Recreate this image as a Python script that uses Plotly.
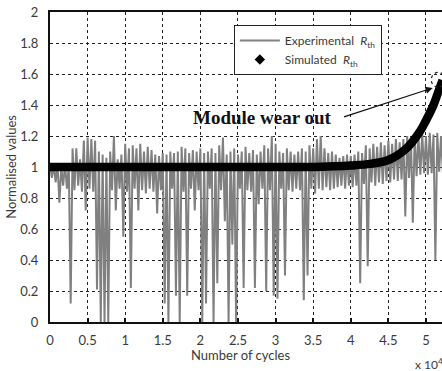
import plotly.graph_objects as go

# ---- data ----
x_ticks = [0, 0.5, 1, 1.5, 2, 2.5, 3, 3.5, 4, 4.5, 5]
x_tick_labels = ["0", "0.5", "1", "1.5", "2", "2.5", "3", "3.5", "4", "4.5", "5"]
y_ticks = [0, 0.2, 0.4, 0.6, 0.8, 1.0, 1.2, 1.4, 1.6, 1.8, 2.0]
y_tick_labels = ["0", "0.2", "0.4", "0.6", "0.8", "1", "1.2", "1.4", "1.6", "1.8", "2"]

# experimental normalised Rth, sampled every 0.025 (x 10^4 cycles)
exp_step = 0.025
exp_y = [
    1.02, 0.93, 1.01, 0.90, 1.02, 0.77, 1.00, 0.88, 1.02, 0.86,
    1.01, 0.12, 1.12, 0.85, 1.12, 0.88, 1.05, 0.84, 1.17, 0.72,
    1.19, 0.86, 1.18, 0.84, 1.17, 0.21, 1.10, 0.00, 1.08, 0.00,
    1.06, 0.00, 1.10, 0.85, 1.20, 0.72, 1.05, 0.86, 1.08, 0.55,
    1.15, 0.84, 1.12, 0.22, 1.14, 0.86, 1.12, 0.72, 1.15, 0.85,
    1.10, 0.83, 1.13, 0.86, 1.11, 0.84, 1.08, 0.70, 1.07, 0.85,
    1.09, 0.12, 1.08, 0.00, 1.10, 0.86, 1.09, 0.17, 1.10, 0.00,
    1.13, 0.84, 1.12, 0.17, 1.09, 0.86, 1.11, 0.72, 1.10, 0.85,
    1.12, 0.00, 1.09, 0.12, 1.10, 0.86, 1.12, 0.00, 1.09, 0.25,
    1.14, 0.85, 1.19, 0.65, 1.08, 0.00, 1.10, 0.50, 1.12, 0.00,
    1.08, 0.86, 1.10, 0.22, 1.13, 0.85, 1.09, 0.84, 1.11, 0.22,
    1.08, 0.76, 1.10, 0.86, 1.14, 0.20, 1.12, 0.85, 1.20, 0.17,
    1.15, 0.15, 1.10, 0.86, 1.09, 0.30, 1.12, 0.85, 1.10, 0.84,
    1.08, 0.86, 1.10, 0.85, 1.12, 0.14, 1.10, 0.30, 1.14, 0.86,
    1.12, 0.83, 1.18, 0.86, 1.20, 0.85, 1.12, 0.87, 1.09, 0.85,
    1.10, 0.86, 1.08, 0.87, 1.06, 0.88, 1.07, 0.86, 1.08, 0.88,
    1.07, 0.87, 1.08, 0.88, 1.10, 0.25, 1.09, 0.89, 1.14, 0.36,
    1.12, 0.90, 1.15, 0.88, 1.13, 0.90, 1.16, 0.89, 1.14, 0.91,
    1.17, 0.90, 1.15, 0.92, 1.18, 0.91, 1.16, 0.92, 1.18, 0.68,
    1.20, 0.93, 1.19, 0.64, 1.21, 0.94, 1.20, 0.95, 1.22, 0.96,
    1.20, 0.95, 1.22, 0.96, 1.21, 0.40, 1.22, 0.97, 1.20, 0.96,
]
exp_x = [i * exp_step for i in range(len(exp_y))]

# simulated normalised Rth
sim_x = [0, 0.5, 1.0, 1.5, 2.0, 2.5, 3.0, 3.5, 3.8, 4.0, 4.26, 4.5, 4.74, 4.92, 5.0, 5.1, 5.16, 5.22]
sim_y = [1.0, 1.0, 1.0, 1.0, 1.0, 1.0, 1.0, 1.0, 1.005, 1.01, 1.02, 1.045, 1.12, 1.23, 1.30, 1.40, 1.48, 1.56]

# annotation anchors
label_text = "Module wear out"
label_pos = (2.83, 1.32)
arrow_tail = (3.89, 1.32)
arrow_tip = (5.09, 1.51)
circle_box = (5.07, 1.515, 5.255, 1.61)

TXT = "#3a3a3a"
FONT = "Lato"

fig = go.Figure()

fig.add_trace(go.Scatter(
    x=exp_x, y=exp_y, mode="lines",
    line=dict(color="#808080", width=2),
    name="Experimental  <i>R</i><sub>th</sub>",
))
fig.add_trace(go.Scatter(
    x=sim_x, y=sim_y, mode="lines",
    line=dict(color="black", width=8.5, shape="spline"),
    showlegend=False,
))
fig.add_trace(go.Scatter(
    x=[None], y=[None], mode="markers",
    marker=dict(symbol="diamond", color="black", size=8),
    name="Simulated  <i>R</i><sub>th</sub>",
))

fig.add_annotation(
    x=label_pos[0], y=label_pos[1], text="<b>" + label_text + "</b>",
    showarrow=False, font=dict(family="Liberation Serif", size=19, color="#111"),
)
fig.add_annotation(
    x=arrow_tip[0], y=arrow_tip[1], ax=arrow_tail[0], ay=arrow_tail[1],
    xref="x", yref="y", axref="x", ayref="y", text="",
    showarrow=True, arrowhead=2, arrowsize=1.2, arrowwidth=1.2, arrowcolor="#111",
)
fig.add_shape(
    type="circle", xref="x", yref="y", layer="above",
    x0=circle_box[0], y0=circle_box[1], x1=circle_box[2], y1=circle_box[3],
    line=dict(color="#222", width=1.2, dash="dot"),
)

# axis titles and multiplier as annotations
fig.add_annotation(
    xref="paper", yref="paper", x=0.487, y=-0.107, yanchor="middle",
    text="Number of cycles", showarrow=False,
    font=dict(family=FONT, size=13, color=TXT),
)
fig.add_annotation(
    xref="paper", yref="paper", x=-0.1, xanchor="center", y=0.5, yanchor="middle",
    textangle=-90, text="Normalised values", showarrow=False,
    font=dict(family=FONT, size=13, color=TXT),
)
fig.add_annotation(
    xref="paper", yref="paper", x=0.926, y=-0.135, xanchor="left", yanchor="middle",
    text="x 10<sup>4</sup>", showarrow=False,
    font=dict(family=FONT, size=12, color=TXT),
)

fig.update_layout(
    width=442, height=371,
    margin=dict(l=50, r=0, t=12, b=49),
    paper_bgcolor="white", plot_bgcolor="white",
    font=dict(family=FONT, size=13, color=TXT),
    showlegend=True,
    legend=dict(
        x=0.469, y=0.958, xanchor="left", yanchor="top",
        bgcolor="white", bordercolor="#222", borderwidth=1,
        font=dict(family=FONT, size=12, color=TXT),
        itemwidth=40, tracegroupgap=2,
    ),
)
fig.update_xaxes(
    range=[0, 5.213], tickvals=x_ticks, ticktext=x_tick_labels,
    showline=True, linecolor="#111", linewidth=2, mirror=True,
    showgrid=True, gridcolor="#222", griddash="dot", gridwidth=1.3,
    ticks="inside", ticklen=4, tickcolor="#111", tickwidth=1.5,
    ticklabelstandoff=5, zeroline=False,
)
fig.update_yaxes(
    range=[0, 2], tickvals=y_ticks, ticktext=y_tick_labels,
    showline=True, linecolor="#111", linewidth=2, mirror=False,
    showgrid=True, gridcolor="#222", griddash="dot", gridwidth=1.3,
    ticks="", ticklabelstandoff=7, zeroline=False,
)

fig.write_html("out.html")
